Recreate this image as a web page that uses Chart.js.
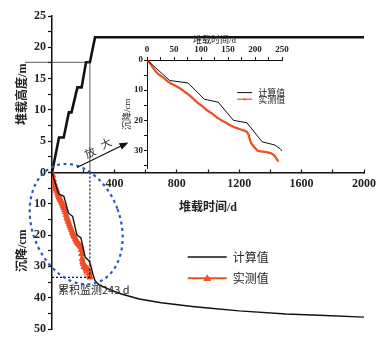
<!DOCTYPE html>
<html>
<head>
<meta charset="utf-8">
<script src="https://cdn.jsdelivr.net/npm/chart.js@4/dist/chart.umd.min.js"></script>
<style>
  html, body { margin: 0; padding: 0; background: #fff; }
  #wrap { position: relative; width: 384px; height: 340px; }
  #main { position: absolute; left: 0; top: 0; }
  #inset { position: absolute; left: 95px; top: 30px; }
</style>
</head>
<body>
<div id="wrap">
  <canvas id="main" width="384" height="340"></canvas>
  <canvas id="inset" width="200" height="145"></canvas>
</div>
<script>
// 堆载过程：时间 (d) - 堆载高度 (m)
const loadDays   = [0, 45, 75, 108, 125, 163, 190, 218, 243, 276, 2000];
const loadHeight = [0, 5.6, 5.6, 9.6, 9.6, 13.6, 13.6, 17.6, 17.6, 21.6, 21.6];

// 计算沉降 (cm)
const calcDays   = [0, 42, 76, 106, 132, 160, 185, 213, 237, 247, 262, 276, 300, 350, 400, 450, 560, 700, 900, 1000, 1200, 1500, 1750, 2000];
const calcSettle = [0, 6.8, 7.6, 13.0, 14.0, 20.0, 20.8, 27.1, 28.2, 29.5, 32.5, 34.6, 35.8, 37.0, 38.0, 38.9, 40.4, 41.6, 42.8, 43.3, 44.2, 45.2, 45.7, 46.2];

// 实测沉降 (cm)
const measDays   = [0, 5, 10, 15, 20, 25, 30, 35, 40, 45, 50, 55, 60, 65, 70, 75, 80, 85, 90, 95,
                    100, 105, 110, 115, 120, 125, 130, 135, 140, 145, 150, 155, 160, 165, 170, 175, 180, 185,
                    188, 190, 193, 197, 200, 205, 210, 215, 220, 225, 230, 235, 238, 241, 243];
const measSettle = [0, 0.9, 2.3, 3.5, 4.5, 5.2, 5.8, 6.6, 7.3, 7.9, 8.3, 8.8, 9.3, 9.9, 10.6, 11.2, 11.9, 12.7, 13.6, 14.4,
                    15.0, 15.7, 16.5, 17.1, 17.7, 18.4, 19.1, 19.7, 20.2, 20.6, 21.2, 21.7, 22.1, 22.5, 22.8, 23.1, 23.4, 23.8,
                    24.7, 26.0, 27.6, 28.5, 29.2, 30.1, 30.3, 30.4, 30.5, 30.7, 30.9, 31.5, 32.2, 33.0, 33.5];

const monitorDays = 243;

const black = '#111';
const red = '#ef4e26';
const blue = '#2a5cbf';
const numFont = size => ({ family: "'Liberation Serif', serif", size, weight: 'bold' });
const cjkFont = (size, weight) => ({ family: "'Liberation Serif', 'Noto Sans CJK SC', sans-serif", size, weight });

const toXY = (xs, ys) => xs.map((v, i) => ({ x: v, y: ys[i] }));

function legendRow(ctx, x, y, len, text, color, width, marker, size) {
  ctx.strokeStyle = color;
  ctx.lineWidth = width;
  ctx.beginPath();
  ctx.moveTo(x, y);
  ctx.lineTo(x + len, y);
  ctx.stroke();
  if (marker) {
    const cx = x + len / 2;
    ctx.fillStyle = color;
    ctx.beginPath();
    ctx.moveTo(cx, y - marker);
    ctx.lineTo(cx + marker, y + marker * 0.7);
    ctx.lineTo(cx - marker, y + marker * 0.7);
    ctx.closePath();
    ctx.fill();
  }
  ctx.fillStyle = '#222';
  ctx.font = size + "px 'Noto Sans CJK SC', sans-serif";
  ctx.textAlign = 'left';
  ctx.textBaseline = 'middle';
  ctx.fillText(text, x + len + 6, y);
}

const mainNotes = {
  id: 'mainNotes',
  afterDatasetsDraw(chart) {
    const { ctx, chartArea: area, scales: { x, yH, yS } } = chart;
    const xm = x.getPixelForValue(monitorDays);
    const hm = yH.getPixelForValue(loadHeight[loadDays.indexOf(monitorDays)]);
    const y0 = yH.getPixelForValue(0);
    const sEnd = yS.getPixelForValue(measSettle[measSettle.length - 1]);
    ctx.save();

    // 监测结束时的堆载高度
    ctx.strokeStyle = '#333';
    ctx.lineWidth = 0.8;
    ctx.beginPath();
    ctx.moveTo(area.left - 27, hm);
    ctx.lineTo(xm, hm);
    ctx.lineTo(xm, y0);
    ctx.stroke();

    // 累积监测 243 d 的虚线
    ctx.strokeStyle = black;
    ctx.lineWidth = 1.2;
    ctx.setLineDash([2, 2]);
    ctx.beginPath();
    ctx.moveTo(xm, y0);
    ctx.lineTo(xm, sEnd);
    ctx.moveTo(area.left, sEnd);
    ctx.lineTo(xm, sEnd);
    ctx.stroke();

    // 放大区域
    ctx.strokeStyle = blue;
    ctx.lineWidth = 2.2;
    ctx.setLineDash([3, 3.5]);
    ctx.beginPath();
    ctx.ellipse(x.getPixelForValue(155), yS.getPixelForValue(16.5), 44, 62, -0.35, 0, Math.PI * 2);
    ctx.stroke();
    ctx.setLineDash([]);

    // 箭头
    const ax0 = x.getPixelForValue(160), ay0 = yH.getPixelForValue(0.8);
    const ax1 = x.getPixelForValue(490), ay1 = yH.getPixelForValue(4.8);
    const ang = Math.atan2(ay1 - ay0, ax1 - ax0);
    ctx.strokeStyle = black;
    ctx.fillStyle = black;
    ctx.lineWidth = 1.2;
    ctx.beginPath();
    ctx.moveTo(ax0, ay0);
    ctx.lineTo(ax1 - 6 * Math.cos(ang), ay1 - 6 * Math.sin(ang));
    ctx.stroke();
    ctx.beginPath();
    ctx.moveTo(ax1, ay1);
    ctx.lineTo(ax1 - 9 * Math.cos(ang) + 3.5 * Math.sin(ang), ay1 - 9 * Math.sin(ang) - 3.5 * Math.cos(ang));
    ctx.lineTo(ax1 - 9 * Math.cos(ang) - 3.5 * Math.sin(ang), ay1 - 9 * Math.sin(ang) + 3.5 * Math.cos(ang));
    ctx.closePath();
    ctx.fill();

    ctx.font = "11px 'Noto Sans CJK SC', sans-serif";
    ctx.textAlign = 'center';
    ctx.textBaseline = 'middle';
    ctx.fillStyle = '#333';
    [['放', 244, 3.2], ['大', 346, 4.65]].forEach(([ch, t, h]) => {
      ctx.save();
      ctx.translate(x.getPixelForValue(t), yH.getPixelForValue(h));
      ctx.rotate(ang);
      ctx.fillText(ch, 0, 0);
      ctx.restore();
    });

    ctx.fillStyle = '#222';
    ctx.textAlign = 'left';
    ctx.fillText('累积监测243 d', area.left + 6, sEnd + 12.5);

    // 图例
    const lx = x.getPixelForValue(870);
    legendRow(ctx, lx, yS.getPixelForValue(27), 39, chart.data.datasets[1].label, black, 1.5, 0, 12);
    legendRow(ctx, lx, yS.getPixelForValue(33.8), 39, chart.data.datasets[2].label, red, 2, 4, 12);
    ctx.restore();
  }
};

const insetNotes = {
  id: 'insetNotes',
  afterDatasetsDraw(chart) {
    const { ctx, scales: { x, y } } = chart;
    ctx.save();
    const lx = x.getPixelForValue(167);
    legendRow(ctx, lx, y.getPixelForValue(10.8), 15, chart.data.datasets[0].label, black, 1, 0, 9);
    legendRow(ctx, lx, y.getPixelForValue(13), 15, chart.data.datasets[1].label, red, 1.2, 1.5, 9);
    ctx.restore();
  }
};

new Chart(document.getElementById('main'), {
  type: 'scatter',
  data: {
    datasets: [
      { label: '堆载高度', data: toXY(loadDays, loadHeight), yAxisID: 'yH', showLine: true,
        borderColor: black, borderWidth: 2.6, pointRadius: 0 },
      { label: '计算值', data: toXY(calcDays, calcSettle), yAxisID: 'yS', showLine: true,
        borderColor: black, borderWidth: 1.4, pointRadius: 0 },
      { label: '实测值', data: toXY(measDays, measSettle), yAxisID: 'yS', showLine: true,
        borderColor: red, borderWidth: 3, pointStyle: 'triangle', pointRadius: 3.4,
        pointBackgroundColor: red, pointBorderColor: red, pointBorderWidth: 1 }
    ]
  },
  options: {
    responsive: false,
    animation: false,
    events: [],
    layout: { padding: { top: 16, right: 20, bottom: 11, left: 0 } },
    plugins: { legend: { display: false }, tooltip: { enabled: false } },
    scales: {
      x: {
        type: 'linear', min: 0, max: 2000,
        position: { yH: 0 },
        border: { color: black, width: 1.5 },
        grid: { drawOnChartArea: false, tickLength: -4, tickColor: black, tickWidth: 1.2 },
        ticks: { stepSize: 200, autoSkip: false, maxRotation: 0, padding: 8, color: '#222', font: numFont(12),
                 callback: v => (v > 0 && v % 400 === 0) ? v : '' },
        title: { display: true, text: '堆载时间/d', color: '#222', font: cjkFont(12, 'bold'), padding: { top: 2, bottom: 0 } }
      },
      yS: {
        type: 'linear', min: 0, max: 50, reverse: true,
        position: 'left', stack: 'v', stackWeight: 1,
        border: { color: black, width: 1.5 },
        grid: { drawOnChartArea: false, tickLength: 4, tickColor: black, tickWidth: 1.2 },
        ticks: { stepSize: 5, autoSkip: false, padding: 2, color: '#222', font: numFont(12),
                 callback: v => (v > 0 && v % 10 === 0) ? v : '' },
        title: { display: true, text: '沉降/cm', color: '#222', font: cjkFont(12, 'bold'), padding: { top: 16 } },
        afterFit: s => { s.width = 52; }
      },
      yH: {
        type: 'linear', min: 0, max: 25,
        position: 'left', stack: 'v', stackWeight: 1,
        border: { color: black, width: 1.5 },
        grid: { drawOnChartArea: false, tickLength: 4, tickColor: black, tickWidth: 1.2 },
        ticks: { stepSize: 2.5, autoSkip: false, padding: 2, color: '#222', font: numFont(12),
                 callback: v => (v % 5 === 0) ? v : '' },
        title: { display: true, text: '堆载高度/m', color: '#222', font: cjkFont(12, 'bold'), padding: { top: 16 } },
        afterFit: s => { s.width = 52; }
      }
    }
  },
  plugins: [mainNotes]
});

new Chart(document.getElementById('inset'), {
  type: 'scatter',
  data: {
    datasets: [
      { label: '计算值', data: toXY(calcDays, calcSettle), showLine: true,
        borderColor: black, borderWidth: 1, pointRadius: 0 },
      { label: '实测值', data: toXY(measDays, measSettle), showLine: true,
        borderColor: red, borderWidth: 2.2, pointStyle: 'triangle', pointRadius: 1.3,
        pointBackgroundColor: red, pointBorderColor: red, pointBorderWidth: 0 }
    ]
  },
  options: {
    responsive: false,
    animation: false,
    events: [],
    layout: { padding: { top: 0, right: 13, bottom: 5, left: 0 } },
    plugins: { legend: { display: false }, tooltip: { enabled: false } },
    scales: {
      x: {
        type: 'linear', min: 0, max: 250, position: 'top',
        border: { color: black, width: 1 },
        grid: { drawOnChartArea: false, tickLength: 3, tickColor: black, tickWidth: 1 },
        ticks: { stepSize: 25, autoSkip: false, maxRotation: 0, padding: 2, color: '#222', font: numFont(9),
                 callback: v => (v % 50 === 0) ? v : '' },
        title: { display: true, text: '堆载时间/d', color: '#222', font: cjkFont(9), padding: { top: 5, bottom: 0 } },
        afterFit: s => { s.height = 30; }
      },
      y: {
        type: 'linear', min: 0, max: 36, reverse: true,
        border: { color: black, width: 1 },
        grid: { drawOnChartArea: false, tickLength: 3, tickColor: black, tickWidth: 1 },
        ticks: { stepSize: 5, includeBounds: false, autoSkip: false, padding: 1, color: '#222', font: numFont(9),
                 callback: v => (v % 10 === 0) ? v : '' },
        title: { display: true, text: '沉降/cm', color: '#222', font: cjkFont(9), padding: { top: 27 } },
        afterFit: s => { s.width = 52; }
      }
    }
  },
  plugins: [insetNotes]
});
</script>
</body>
</html>
